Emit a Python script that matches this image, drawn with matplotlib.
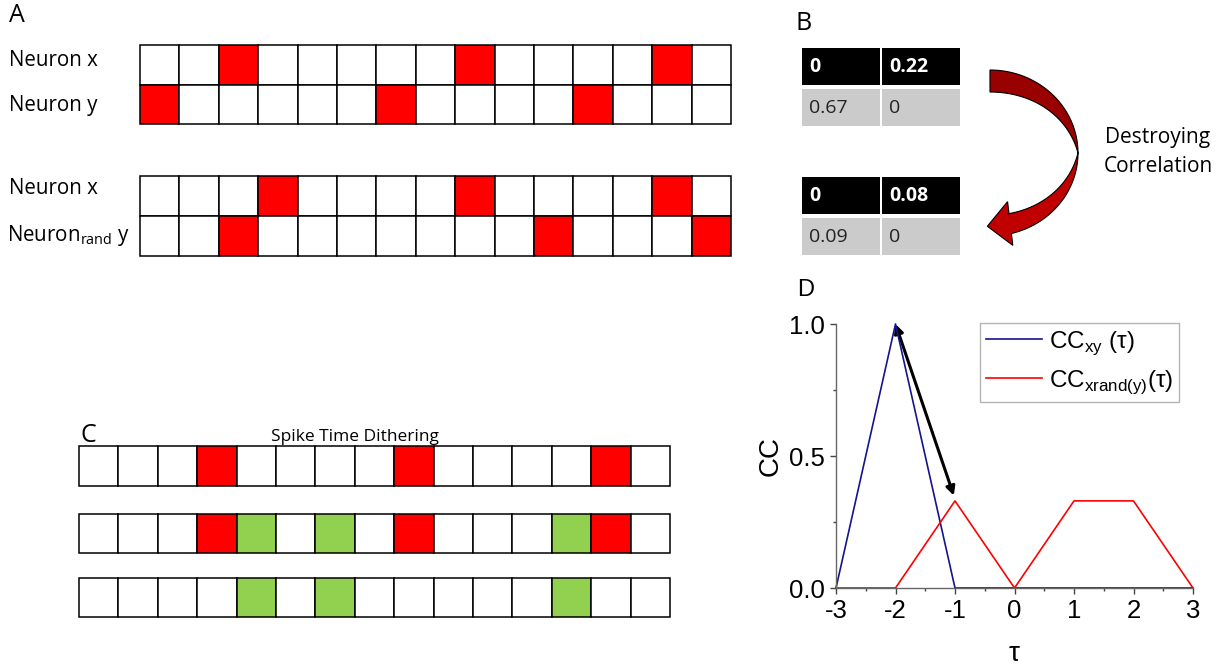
import numpy as np
import matplotlib
matplotlib.use('Agg')
import matplotlib.pyplot as plt
from matplotlib.patches import Rectangle, Polygon, FancyArrowPatch

# spike trains (bin index of each spike), 15 bins per train
n_bins = 15
a_x = [2, 8, 13]
a_y = [0, 6, 11]
a_x2 = [3, 8, 13]
a_yrand = [2, 10, 14]
c_spikes = [3, 8, 13]
c_dither = [4, 6, 12]

# correlation tables of panel B
b_before = [['0', '0.22'], ['0.67', '0']]
b_after = [['0', '0.08'], ['0.09', '0']]

# cross-correlograms of panel D
tau = [-3, -2, -1, 0, 1, 2, 3]
cc_xy = [0, 1, 0, 0, 0, 0, 0]
cc_rand = [0, 0, 0.33, 0, 0.33, 0.33, 0]

RED = '#ff0000'
GREEN = '#92d050'
TXT = 'Open Sans'
ARIAL = 'Liberation Sans'

fig = plt.figure(figsize=(12.25, 6.68), dpi=100)
bg = fig.add_axes([0, 0, 1, 1])
bg.set_xlim(0, 1225)
bg.set_ylim(668, 0)
bg.axis('off')


def spike_row(ax, x0, y0, w, h, red=(), green=()):
    for i in range(n_bins):
        fc = 'white'
        if i in red:
            fc = RED
        elif i in green:
            fc = GREEN
        ax.add_patch(Rectangle((x0 + i * w, y0), w, h, facecolor=fc,
                               edgecolor='black', lw=1.1))


# ---- A
bw = (731 - 140) / n_bins
bg.text(9, 16, 'A', fontsize=18, family=TXT, va='center')
spike_row(bg, 140, 45, bw, 40, red=a_x)
spike_row(bg, 140, 85, bw, 39, red=a_y)
spike_row(bg, 140, 176, bw, 40, red=a_x2)
spike_row(bg, 140, 216, bw, 40, red=a_yrand)
bg.text(9, 61, 'Neuron x', fontsize=14.8, family=TXT, va='center')
bg.text(9, 106, 'Neuron y', fontsize=14.8, family=TXT, va='center')
bg.text(9, 189, 'Neuron x', fontsize=14.8, family=TXT, va='center')
bg.text(7, 236, r'Neuron$_{\mathregular{rand}}$ y', fontsize=14.8,
        family=TXT, va='center')

# ---- B
bg.text(795, 24, 'B', fontsize=18, family=TXT, va='center')


def corr_table(ax, y0, vals):
    cols = [802, 882]
    for j, x in enumerate(cols):
        ax.add_patch(Rectangle((x, y0), 78, 37, facecolor='black', lw=0))
        ax.text(x + 7, y0 + 19, vals[0][j], color='white', fontsize=14,
                family=TXT, weight='bold', va='center')
        ax.add_patch(Rectangle((x, y0 + 41), 78, 37, facecolor='#cbcbcb', lw=0))
        ax.text(x + 7, y0 + 60, vals[1][j], color='#222222', fontsize=14,
                family=TXT, va='center')


corr_table(bg, 48, b_before)
corr_table(bg, 177, b_after)

# curved arrow
cx, cy, ea, eb = 990, 153, 88, 83
phi = np.radians(np.linspace(90, 0, 40))
wu = 22 * np.sin(phi)
outer = np.c_[cx + ea * np.cos(phi), cy - eb * np.sin(phi)]
inner = np.c_[cx + (ea - wu) * np.cos(phi), cy - (eb - wu) * np.sin(phi)]
bg.add_patch(Polygon(np.r_[outer, inner[::-1]], closed=True,
                     facecolor='#990000', edgecolor='black', lw=0.8))
phi = np.radians(np.linspace(0, -75, 40))
wl = 20 * np.abs(np.sin(phi)) / np.sin(np.radians(75))
outer = np.c_[cx + ea * np.cos(phi), cy - eb * np.sin(phi)]
inner = np.c_[cx + (ea - wl) * np.cos(phi), cy - (eb - wl) * np.sin(phi)]
mid = (outer[-1] + inner[-1]) / 2
d = np.array([-1.0, 0.12])
d /= np.hypot(*d)
nrm = np.array([-d[1], d[0]])
tip = mid + 23 * d
shape = np.r_[outer, [mid - 10 * nrm], [mid - 22 * nrm], [tip],
              [mid + 22 * nrm], [mid + 10 * nrm], inner[::-1]]
bg.add_patch(Polygon(shape, closed=True, facecolor='#c00000',
                     edgecolor='black', lw=0.8))
bg.text(1158, 137, 'Destroying', fontsize=15, family=TXT, ha='center', va='center')
bg.text(1158, 166, 'Correlation', fontsize=15, family=TXT, ha='center', va='center')

# ---- C
cw = (670 - 79) / n_bins
bg.text(81, 436, 'C', fontsize=18, family=TXT, va='center')
bg.text(355, 437, 'Spike Time Dithering', fontsize=12.5, family=TXT,
        ha='center', va='center')
spike_row(bg, 79, 446, cw, 40, red=c_spikes)
spike_row(bg, 79, 514, cw, 39, red=c_spikes, green=c_dither)
spike_row(bg, 79, 578, cw, 39, green=c_dither)

# ---- D
ax = fig.add_axes([836 / 1225, 1 - 588 / 668, 357 / 1225, 264 / 668])
ax.patch.set_alpha(0)
ax.plot(tau, cc_xy, color='#14148c', lw=1.2, clip_on=False,
        label=r'CC$_{\mathregular{xy}}$ ($\mathregular{τ}$)')
ax.plot(tau, cc_rand, color=RED, lw=1.2, clip_on=False,
        label=r'CC$_{\mathregular{xrand(y)}}$($\mathregular{τ}$)')
ax.add_patch(FancyArrowPatch((-2, 1), (-1.02, 0.35), arrowstyle='<|-|>',
                             mutation_scale=13, lw=2.2, color='black',
                             shrinkA=0, shrinkB=0))
ax.set_xlim(-3, 3)
ax.set_ylim(0, 1)
ax.set_xticks(tau)
ax.set_xticklabels([str(t) for t in tau])
ax.set_yticks([0, 0.5, 1.0])
ax.set_yticklabels(['0.0', '0.5', '1.0'])
ax.set_xticks(np.arange(-2.5, 3, 1), minor=True)
ax.set_yticks([0.25, 0.75], minor=True)
for s in ['top', 'right']:
    ax.spines[s].set_visible(False)
for s in ['left', 'bottom']:
    ax.spines[s].set_color('#666666')
    ax.spines[s].set_linewidth(1)
ax.tick_params(which='major', length=4, width=1, color='#444444',
               labelsize=18.5, pad=4)
ax.tick_params(which='minor', length=2.5, width=1, color='#444444')
for lb in ax.get_xticklabels() + ax.get_yticklabels():
    lb.set_family(ARIAL)
ax.set_ylabel('CC', fontsize=20, family=ARIAL, labelpad=4)
ax.set_xlabel('τ', fontsize=20, family=ARIAL, labelpad=13)
ax.text(-0.11, 1.13, 'D', transform=ax.transAxes, fontsize=17,
        family=ARIAL, va='center')
leg = ax.legend(loc='upper right', bbox_to_anchor=(0.962, 1.003),
                borderaxespad=0, fancybox=False, handlelength=2.3,
                labelspacing=0.45, prop={'family': ARIAL, 'size': 17.5},
                borderpad=0.25, handletextpad=0.3)
leg.get_frame().set_edgecolor('#a0a0a0')
leg.get_frame().set_linewidth(1)

fig.savefig('out.png', dpi=100)
